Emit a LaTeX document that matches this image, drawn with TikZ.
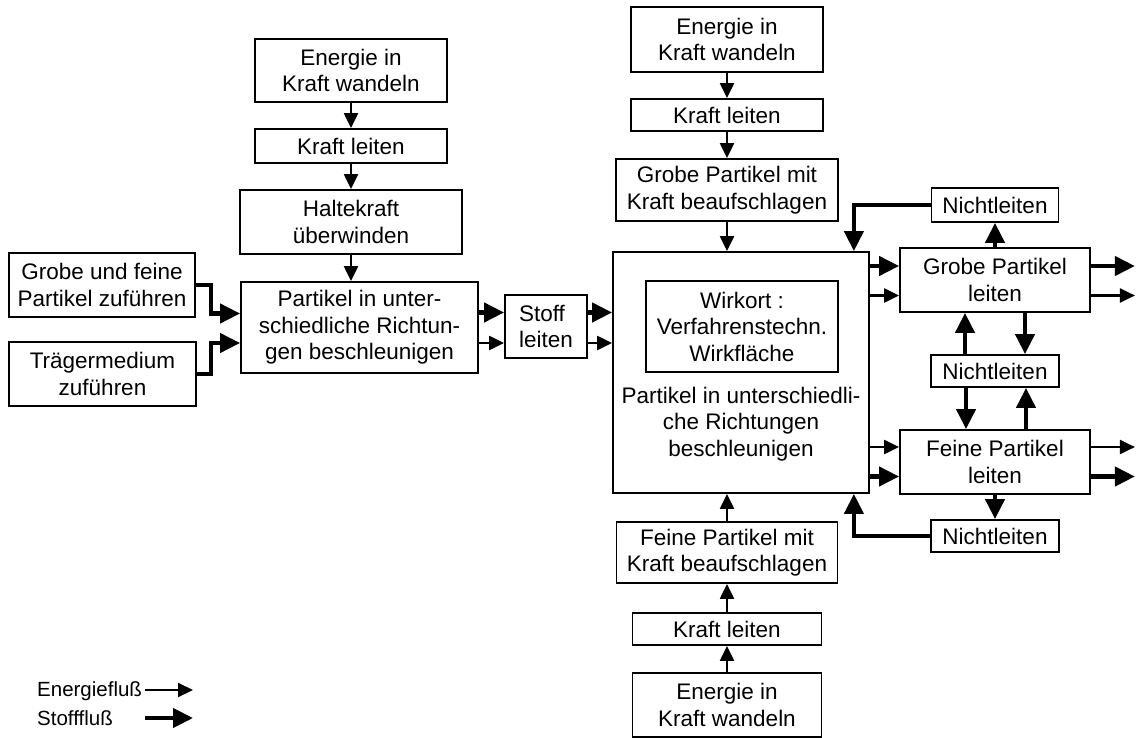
\documentclass[tikz,border=0pt]{standalone}
\usepackage{fontspec}
\setmainfont{Liberation Sans}
\usetikzlibrary{arrows.meta,calc}
\newcommand\fsz{\fontsize{22.5}{26.5}\selectfont}
\newcommand\legfsz{\fontsize{20.5}{24}\selectfont}
\tikzset{
  box/.style={draw, line width=1.8pt, inner sep=0pt, align=center, font=\fsz},
  earrow/.style={-{Triangle[length=15pt,width=14pt]}, line width=2.2pt},
  sarrow/.style={-{Triangle[length=20pt,width=19pt]}, line width=4.2pt}
}
\begin{document}
\begin{tikzpicture}[x=1pt,y=-1pt]
\useasboundingbox (0,0) rectangle (1136,738);
% left part
\node[box, minimum width=192, minimum height=63] (eL) at (351,70.5) {Energie in\\Kraft wandeln};
\node[box, minimum width=192, minimum height=34] (kL) at (351,146) {Kraft leiten};
\node[box, minimum width=222, minimum height=64] (hL) at (351,222) {Haltekraft\\überwinden};
\node[box, minimum width=186, minimum height=64] (gf) at (102,285) {Grobe und feine\\Partikel zuführen};
\node[box, minimum width=187, minimum height=64] (tm) at (102.5,374) {Trägermedium\\zuführen};
\node[box, minimum width=237, minimum height=91] (pL) at (359.5,327.5) {Partikel in unter-\\schiedliche Richtun-\\gen beschleunigen};
\node[box, minimum width=82, minimum height=63] (st) at (546,326.5) {};
\node[font=\fsz, align=left] (sttxt) at (546,326.5) {Stoff\\leiten};
% middle column
\node[box, minimum width=192, minimum height=65] (eT) at (727,39.5) {Energie in\\Kraft wandeln};
\node[box, minimum width=192, minimum height=32] (kT) at (727,115) {Kraft leiten};
\node[box, minimum width=222, minimum height=62] (gm) at (727,190) {Grobe Partikel mit\\Kraft beaufschlagen};
\node[box, minimum width=256, minimum height=241] (big) at (741,372.5) {};
\node[box, minimum width=192, minimum height=91] (wk) at (742,326.5) {Wirkort :\\Verfahrenstechn.\\Wirkfläche};
\node[font=\fsz, align=center] (bigtxt) at (741,424) {Partikel in unterschiedli-\\che Richtungen\\beschleunigen};
\node[box, minimum width=221, minimum height=61] (fm) at (727,552.5) {Feine Partikel mit\\Kraft beaufschlagen};
\node[box, minimum width=189, minimum height=32] (kB) at (727,629) {Kraft leiten};
\node[box, minimum width=189, minimum height=64] (eB) at (727,705) {Energie in\\Kraft wandeln};
% right column
\node[box, minimum width=127, minimum height=34] (n1) at (995,205) {Nichtleiten};
\node[box, minimum width=190, minimum height=64] (gl) at (995,280) {Grobe Partikel\\leiten};
\node[box, minimum width=128, minimum height=32] (n2) at (995,371) {Nichtleiten};
\node[box, minimum width=190, minimum height=64] (fl) at (995,462) {Feine Partikel\\leiten};
\node[box, minimum width=128, minimum height=32] (n3) at (995,536) {Nichtleiten};
% legend
\node[anchor=west, font=\legfsz, inner sep=0pt] (leg1) at (37,691) {Energiefluß};
\node[anchor=west, font=\legfsz, inner sep=0pt] (leg2) at (37,718) {Stofffluß};
\coordinate (l1a) at (145,690); \coordinate (l1b) at (193,690);
\coordinate (l2a) at (145,718); \coordinate (l2b) at (193,718);
\draw[earrow] (l1a) -- (l1b);
\draw[sarrow] (l2a) -- (l2b);

% energy arrows left
\draw[earrow] (eL.south) -- (kL.north);
\draw[earrow] (kL.south) -- (hL.north);
\draw[earrow] (hL.south) -- (hL.south |- pL.north);
% energy arrows middle
\draw[earrow] (eT.south) -- (kT.north);
\draw[earrow] (kT.south) -- (gm.north);
\draw[earrow] (gm.south) -- (gm.south |- big.north);
\draw[earrow] (eB.north) -- (kB.south);
\draw[earrow] (kB.north) -- (fm.south);
\draw[earrow] (fm.north) -- (fm.north |- big.south);

% feeding lines
\path (pL.west) ++(0,-14) coordinate (p1);
\path (pL.west) ++(0,15.5) coordinate (p2);
\draw[sarrow] (gf.east) -- ++(15,0) |- (p1);
\draw[sarrow] (tm.east) -- ++(14,0) |- (p2);

% Partikel -> Stoff -> big
\path (st.west) ++(0,-14) coordinate (s1);
\path (st.west) ++(0,16.5) coordinate (s2);
\draw[sarrow] (s1 -| pL.east) -- (s1);
\draw[earrow] (s2 -| pL.east) -- (s2);
\draw[sarrow] (s1 -| st.east) -- (s1 -| big.west);
\draw[earrow] (s2 -| st.east) -- (s2 -| big.west);

% big -> Grobe / Feine
\path (gl.west) ++(0,-14) coordinate (g1);
\path (gl.west) ++(0,15.5) coordinate (g2);
\draw[sarrow] (g1 -| big.east) -- (g1);
\draw[earrow] (g2 -| big.east) -- (g2);
\draw[sarrow] (g1 -| gl.east) -- ++(44,0) coordinate (go1);
\draw[earrow] (g2 -| gl.east) -- ++(44,0) coordinate (go2);
\path (fl.west) ++(0,-15) coordinate (f1);
\path (fl.west) ++(0,14.5) coordinate (f2);
\draw[earrow] (f1 -| big.east) -- (f1);
\draw[sarrow] (f2 -| big.east) -- (f2);
\draw[earrow] (f1 -| fl.east) -- ++(44,0) coordinate (fo1);
\draw[sarrow] (f2 -| fl.east) -- ++(44,0) coordinate (fo2);

% Nichtleiten connections
\draw[sarrow] (gl.north) -- (n1.south);
\draw[sarrow] (n1.west) -| ($(big.north east)+(-16,0)$);
\path (n2.north) ++(-30,0) coordinate (a1);
\draw[sarrow] (a1) -- (a1 |- gl.south);
\path (gl.south) ++(30,0) coordinate (a2);
\draw[sarrow] (a2) -- (a2 |- n2.north);
\path (n2.south) ++(-29,0) coordinate (a3);
\draw[sarrow] (a3) -- (a3 |- fl.north);
\path (fl.north) ++(31,0) coordinate (a4);
\draw[sarrow] (a4) -- (a4 |- n2.south);
\draw[sarrow] (fl.south) -- (n3.north);
\draw[sarrow] (n3.west) -| ($(big.south east)+(-16,0)$);
\end{tikzpicture}
\end{document}
